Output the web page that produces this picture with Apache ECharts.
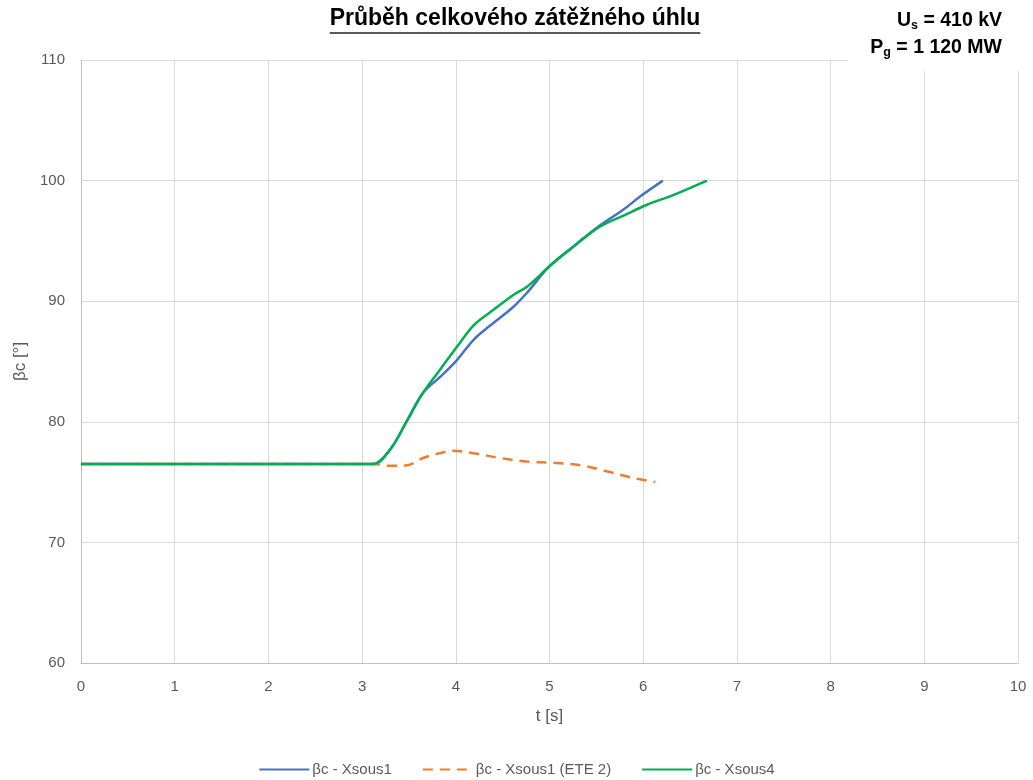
<!DOCTYPE html>
<html>
<head>
<meta charset="utf-8">
<script src="https://cdn.jsdelivr.net/npm/echarts@6/dist/echarts.min.js"></script>
<style>
  html, body { margin: 0; padding: 0; background: #fff; }
  #chart { width: 1033px; height: 780px; }
</style>
</head>
<body>
<div id="chart"></div>
<script>
// Time samples [s] and load angle values [°] for each case
const tXsous1 = [0, 3.0, 3.12, 3.3, 3.48, 3.65, 3.83, 4.01, 4.19, 4.37, 4.61, 4.76, 5.0, 5.25, 5.54, 5.79, 5.97, 6.21];
const bXsous1 = [76.5, 76.5, 76.5, 77.7, 80.1, 82.4, 83.7, 85.1, 86.8, 88.0, 89.5, 90.7, 92.9, 94.5, 96.3, 97.6, 98.7, 100];

const tXsous1Ete2 = [0, 3.0, 3.12, 3.3, 3.48, 3.65, 3.83, 3.97, 4.19, 4.47, 4.76, 5.04, 5.33, 5.61, 5.86, 6.13];
const bXsous1Ete2 = [76.5, 76.5, 76.5, 76.35, 76.4, 77.0, 77.4, 77.6, 77.4, 77.0, 76.7, 76.6, 76.4, 75.9, 75.4, 75.0];

const tXsous4 = [0, 3.0, 3.12, 3.3, 3.48, 3.65, 3.83, 4.01, 4.19, 4.37, 4.61, 4.76, 5.0, 5.25, 5.54, 5.79, 6.04, 6.32, 6.68];
const bXsous4 = [76.5, 76.5, 76.5, 77.7, 80.1, 82.4, 84.3, 86.2, 88.0, 89.1, 90.5, 91.2, 92.9, 94.5, 96.2, 97.1, 98.0, 98.8, 100];

const seriesNames = ['βc - Xsous1', 'βc - Xsous1 (ETE 2)', 'βc - Xsous4'];
const titleText = 'Průběh celkového zátěžného úhlu';

const zip = (t, v) => t.map((x, i) => [x, v[i]]);

const FONT = '"Liberation Sans", "DejaVu Sans", sans-serif';
const LABEL = '#595959';

// Measure title width so the underline spans the text
const titleFont = 'bold 23px ' + FONT;
const ctx = document.createElement('canvas').getContext('2d');
ctx.font = titleFont;
const titleW = ctx.measureText(titleText).width;
const titleCx = 515;

const infoRich = {
  m: { font: 'bold 19.5px ' + FONT, fill: '#000' },
  s: { font: 'bold 12.5px ' + FONT, fill: '#000', verticalAlign: 'bottom', padding: [9, 0, 0, 0] }
};

const chart = echarts.init(document.getElementById('chart'), null, { renderer: 'canvas' });

chart.setOption({
  backgroundColor: '#fff',
  animation: false,
  grid: { left: 81, right: 15, top: 60, bottom: 117, containLabel: false },
  graphic: [
    {
      type: 'text', left: titleCx - titleW / 2, top: 7,
      style: { text: titleText, font: titleFont, fill: '#000' }
    },
    {
      type: 'line', z: 10,
      shape: { x1: titleCx - titleW / 2, y1: 33, x2: titleCx + titleW / 2, y2: 33 },
      style: { stroke: '#222', lineWidth: 1.6 }
    },
    {
      type: 'text', right: 31, top: 11, z: 20,
      style: { text: '{m|U}{s|s}{m| = 410 kV}', rich: infoRich }
    },
    {
      // white box behind the second note, hiding the grid under it
      type: 'rect', left: 848, top: 34, z: 19,
      shape: { width: 176, height: 37 },
      style: { fill: '#fff' }
    },
    {
      type: 'text', right: 31, top: 38, z: 20,
      style: { text: '{m|P}{s|g}{m| = 1 120 MW}', rich: infoRich }
    }
  ],
  legend: {
    top: 757,
    left: 'center',
    itemWidth: 50,
    itemHeight: 10,
    itemGap: 30,
    itemStyle: { opacity: 0 },
    textStyle: { fontFamily: FONT, fontSize: 15, color: LABEL, padding: [0, 0, 0, -2] },
    data: seriesNames
  },
  xAxis: {
    type: 'value', min: 0, max: 10, interval: 1,
    name: 't [s]', nameLocation: 'middle', nameGap: 45,
    nameTextStyle: { fontFamily: FONT, fontSize: 17, color: LABEL },
    axisLine: { lineStyle: { color: '#BFBFBF', width: 1 } },
    axisTick: { show: false },
    axisLabel: { fontFamily: FONT, fontSize: 15, color: LABEL, margin: 16 },
    splitLine: { show: true, lineStyle: { color: '#D9D9D9', width: 1 } }
  },
  yAxis: {
    type: 'value', min: 60, max: 110, interval: 10,
    name: 'βc [°]', nameLocation: 'middle', nameGap: 52,
    nameTextStyle: { fontFamily: FONT, fontSize: 17, color: LABEL },
    axisLine: { show: true, lineStyle: { color: '#BFBFBF', width: 1 } },
    axisTick: { show: false },
    axisLabel: { fontFamily: FONT, fontSize: 15, color: LABEL, margin: 16 },
    splitLine: { show: true, lineStyle: { color: '#D9D9D9', width: 1 } }
  },
  series: [
    {
      name: seriesNames[0], type: 'line', smooth: 0.35, symbol: 'none',
      data: zip(tXsous1, bXsous1),
      lineStyle: { color: '#4472C4', width: 2.5 }, itemStyle: { color: '#4472C4' }
    },
    {
      name: seriesNames[1], type: 'line', smooth: 0.35, symbol: 'none',
      data: zip(tXsous1Ete2, bXsous1Ete2),
      lineStyle: { color: '#ED7D31', width: 2.5, type: [10, 7] }, itemStyle: { color: '#ED7D31' }
    },
    {
      name: seriesNames[2], type: 'line', smooth: 0.35, symbol: 'none',
      data: zip(tXsous4, bXsous4),
      lineStyle: { color: '#00B050', width: 2.5 }, itemStyle: { color: '#00B050' }
    }
  ]
});
</script>
</body>
</html>
